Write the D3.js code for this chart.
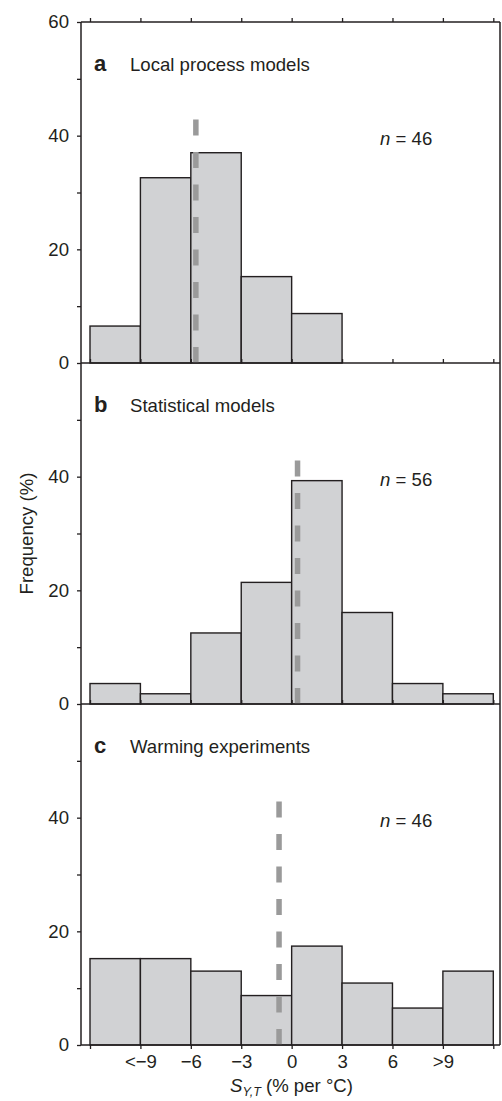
<!DOCTYPE html>
<html>
<head>
<meta charset="utf-8">
<script src="https://cdn.jsdelivr.net/npm/d3@7/dist/d3.min.js"></script>
<style>
  html, body { margin: 0; padding: 0; background: #fff; }
  svg { display: block; font-family: "Liberation Sans", Arial, Helvetica, sans-serif; }
</style>
</head>
<body>
<svg id="chart" width="502" height="1101"></svg>
<script>
// ---- Data ----
const binEdges = [-12, -9, -6, -3, 0, 3, 6, 9, 12];
const binStarts = [-12, -9, -6, -3, 0, 3, 6, 9];
const tickLabels = ["", "<\u22129", "\u22126", "\u22123", "0", "3", "6", ">9", ""];
const panelLetters = ["a", "b", "c"];
const panelTitles = ["Local process models", "Statistical models", "Warming experiments"];
const nValues = [46, 56, 46];
const freqA = [6.5, 32.6, 37.0, 15.2, 8.7, 0, 0, 0];
const freqB = [3.6, 1.8, 12.5, 21.4, 39.3, 16.1, 3.6, 1.8];
const freqC = [15.2, 15.2, 13.0, 8.7, 17.4, 10.9, 6.5, 13.0];
const medians = [-5.7, 0.35, -0.75];
const medianTop = 43;
const yMajor = [0, 20, 40, 60];

const panels = [freqA, freqB, freqC].map((vals, i) => ({
  vals, letter: panelLetters[i], title: panelTitles[i], n: nValues[i], median: medians[i]
}));

// ---- Layout ----
const frameL = 81, frameR = 500, top0 = 22, panelH = 341;
const ink = "#231f20";
const fs = 18.6;

const svg = d3.select("#chart");
const x = d3.scaleLinear().domain([-12, 12]).range([90, 493.3]);

panels.forEach((p, i) => {
  const pTop = top0 + i * panelH;
  const y = d3.scaleLinear().domain([0, 60]).range([pTop + panelH, pTop]);
  const g = svg.append("g");

  // bars
  g.selectAll("rect.bar")
    .data(binStarts.map((s, k) => ({ s, v: p.vals[k] })).filter(d => d.v > 0))
    .join("rect")
    .attr("class", "bar")
    .attr("x", d => x(d.s))
    .attr("width", d => x(d.s + 3) - x(d.s))
    .attr("y", d => y(d.v))
    .attr("height", d => y(0) - y(d.v))
    .attr("fill", "#d1d2d4")
    .attr("stroke", ink)
    .attr("stroke-width", 1.4);

  // median dashed line
  g.append("line")
    .attr("x1", x(p.median)).attr("x2", x(p.median))
    .attr("y1", y(0)).attr("y2", y(medianTop))
    .attr("stroke", "#9a9a9a")
    .attr("stroke-width", 5.5)
    .attr("stroke-dasharray", "16,16.5");

  // left axis
  const yTicks = i === 0 ? [0, 10, 20, 30, 40, 50, 60] : [0, 10, 20, 30, 40, 50];
  const ya = g.append("g")
    .attr("transform", `translate(${frameL},0)`)
    .call(d3.axisLeft(y).tickValues(yTicks).tickSize(4).tickPadding(8)
      .tickFormat(d => yMajor.includes(d) ? d : ""));
  ya.select(".domain").remove();
  ya.selectAll("line").attr("stroke", ink).attr("stroke-width", 1.3);
  ya.selectAll("text").attr("font-size", fs).attr("fill", ink).attr("font-family", null);

  // top ticks for first panel (outward)
  if (i === 0) {
    const ta = g.append("g")
      .attr("transform", `translate(0,${y(60)})`)
      .call(d3.axisTop(x).tickValues(binEdges).tickSize(4).tickFormat(""));
    ta.select(".domain").remove();
    ta.selectAll("line").attr("stroke", ink).attr("stroke-width", 1.3);
  }

  // bottom ticks
  if (i < 2) {
    const ba = g.append("g")
      .attr("transform", `translate(0,${y(0)})`)
      .call(d3.axisTop(x).tickValues(binEdges).tickSize(4).tickFormat(""));
    ba.select(".domain").remove();
    ba.selectAll("line").attr("stroke", ink).attr("stroke-width", 1.3);
  } else {
    const ba = g.append("g")
      .attr("transform", `translate(0,${y(0)})`)
      .call(d3.axisBottom(x).tickValues(binEdges).tickSize(4).tickPadding(6)
        .tickFormat((d, k) => tickLabels[k]));
    ba.select(".domain").remove();
    ba.selectAll("line").attr("stroke", ink).attr("stroke-width", 1.3);
    ba.selectAll("text").attr("font-size", fs).attr("fill", ink).attr("font-family", null);
  }

  // frame lines: bottom of panel
  g.append("line")
    .attr("x1", frameL).attr("x2", frameR)
    .attr("y1", y(0)).attr("y2", y(0))
    .attr("stroke", ink).attr("stroke-width", 1.5);

  // panel letter and title
  g.append("text")
    .attr("x", 94).attr("y", pTop + 49)
    .attr("font-size", 22).attr("font-weight", "bold").attr("fill", ink)
    .text(p.letter);
  g.append("text")
    .attr("x", 130).attr("y", pTop + 49)
    .attr("font-size", fs).attr("fill", ink)
    .text(p.title);

  // n label
  const nt = g.append("text")
    .attr("x", 380).attr("y", pTop + 123)
    .attr("font-size", fs).attr("fill", ink);
  nt.append("tspan").attr("font-style", "italic").text("n");
  nt.append("tspan").text(" = " + p.n);
});

// outer frame: top, left, right
const bottomY = top0 + 3 * panelH;
svg.append("line").attr("x1", frameL).attr("x2", frameR).attr("y1", top0).attr("y2", top0)
  .attr("stroke", ink).attr("stroke-width", 1.5);
svg.append("line").attr("x1", frameL).attr("x2", frameL).attr("y1", top0).attr("y2", bottomY)
  .attr("stroke", ink).attr("stroke-width", 1.5);
svg.append("line").attr("x1", frameR).attr("x2", frameR).attr("y1", top0).attr("y2", bottomY)
  .attr("stroke", ink).attr("stroke-width", 1.5);

// y axis title
svg.append("text")
  .attr("transform", `translate(33,${(top0 + bottomY) / 2}) rotate(-90)`)
  .attr("text-anchor", "middle")
  .attr("font-size", fs).attr("fill", ink)
  .text("Frequency (%)");

// x axis title
const xt = svg.append("text")
  .attr("x", (frameL + frameR) / 2 + 1).attr("y", 1092)
  .attr("text-anchor", "middle")
  .attr("font-size", fs).attr("fill", ink);
xt.append("tspan").attr("font-style", "italic").text("S");
xt.append("tspan").attr("font-style", "italic").attr("font-size", 12.5).attr("dy", 4).text("Y,T");
xt.append("tspan").attr("dy", -4).text(" (% per \u00B0C)");
</script>
</body>
</html>
